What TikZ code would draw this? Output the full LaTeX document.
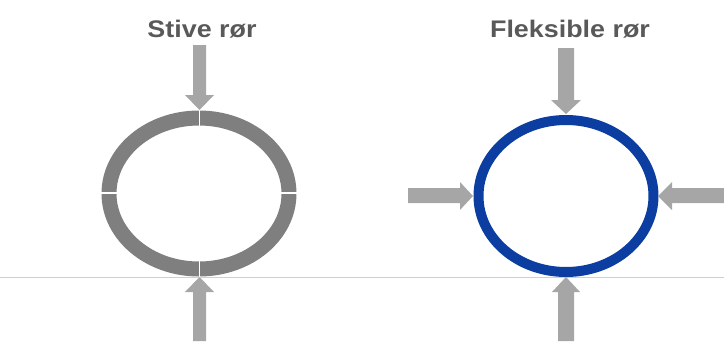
\documentclass[tikz,border=0pt]{standalone}
\usepackage{fontspec}
\setmainfont{Liberation Sans}
\definecolor{ringgray}{HTML}{7F7F7F}
\definecolor{arrowgray}{HTML}{A6A6A6}
\definecolor{titlegray}{HTML}{595959}
\definecolor{ringblue}{HTML}{0B3EA0}
\definecolor{basegray}{HTML}{CFCFCF}
\tikzset{
  titletext/.style={font=\bfseries\fontsize{24}{28}\selectfont, text=titlegray, anchor=base, inner sep=0pt, xscale=1.12},
  blockarrow/.style={fill=arrowgray, draw=none},
  gapline/.style={draw=white, line width=1.6pt}
}
\begin{document}
\begin{tikzpicture}[x=1pt, y=-1pt]
\useasboundingbox (0,0) rectangle (724,341);
% base line
\draw[basegray, line width=0.8pt] (0,277) -- (724,277);
% titles
\node[titletext] (t1) at (202,37) {Stive rør};
\node[titletext] (t2) at (570,37) {Fleksible rør};
% rigid ring
\draw[ringgray, line width=15pt] (199,193.5) ellipse [x radius=90pt, y radius=75.5pt];
\draw[gapline] (199.5,105) -- (199.5,128);
\draw[gapline] (199.5,259) -- (199.5,282);
\draw[gapline] (100,193) -- (118,193);
\draw[gapline] (280,193) -- (299,193);
% rigid arrows
\fill[blockarrow] (193,45) -- (206,45) -- (206,95) -- (214,95) -- (199.5,110) -- (185,95) -- (193,95) -- cycle;
\fill[blockarrow] (199.5,277) -- (214,292) -- (206,292) -- (206,341) -- (193,341) -- (193,292) -- (185,292) -- cycle;
% flexible ring
\draw[ringblue, line width=10pt] (566,196) ellipse [x radius=87.5pt, y radius=76pt];
% flexible arrows
\fill[blockarrow] (558,48) -- (574,48) -- (574,100) -- (581,100) -- (566,114) -- (551,100) -- (558,100) -- cycle;
\fill[blockarrow] (408,188) -- (460,188) -- (460,182) -- (473,196) -- (460,210) -- (460,203) -- (408,203) -- cycle;
\fill[blockarrow] (724,188) -- (672,188) -- (672,182) -- (658,196) -- (672,210) -- (672,203) -- (724,203) -- cycle;
\fill[blockarrow] (566,277) -- (580,292) -- (574,292) -- (574,341) -- (558,341) -- (558,292) -- (552,292) -- cycle;
\end{tikzpicture}
\end{document}
